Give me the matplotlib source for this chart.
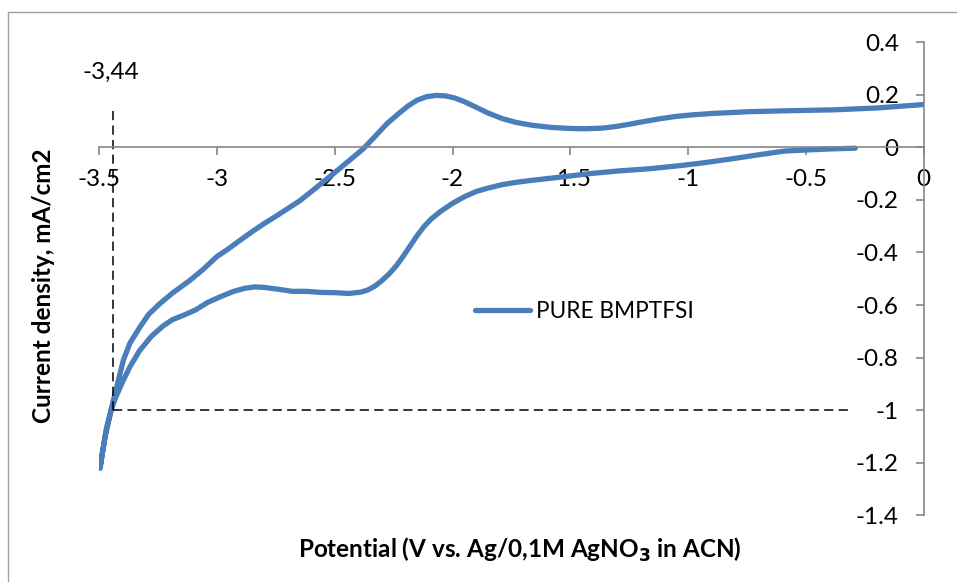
import matplotlib
matplotlib.use("Agg")
import matplotlib.pyplot as plt
from matplotlib.patches import Rectangle

# cyclic voltammogram of the pure ionic liquid
# forward scan (towards negative potentials)
x_fwd = [-0.29, -0.40, -0.50, -0.59, -0.70, -0.81, -0.92, -1.02, -1.16, -1.30,
         -1.42, -1.54, -1.66, -1.73, -1.79, -1.85, -1.90, -1.95, -2.00, -2.05,
         -2.09, -2.12, -2.15, -2.18, -2.21, -2.24, -2.27, -2.30, -2.33, -2.36,
         -2.39, -2.44, -2.50, -2.56, -2.62, -2.68, -2.74, -2.80, -2.84, -2.88,
         -2.93, -2.99, -3.04, -3.09, -3.14, -3.19, -3.23, -3.28, -3.33, -3.37,
         -3.40, -3.43, -3.45, -3.47, -3.485, -3.497]
y_fwd = [-0.003, -0.006, -0.010, -0.014, -0.028, -0.043, -0.057, -0.068, -0.081, -0.090,
         -0.100, -0.113, -0.125, -0.133, -0.142, -0.155, -0.168, -0.188, -0.213, -0.243,
         -0.272, -0.300, -0.335, -0.375, -0.415, -0.452, -0.482, -0.507, -0.528, -0.543,
         -0.551, -0.556, -0.553, -0.552, -0.548, -0.548, -0.540, -0.533, -0.531, -0.536,
         -0.548, -0.570, -0.590, -0.618, -0.638, -0.656, -0.680, -0.720, -0.775, -0.835,
         -0.890, -0.950, -1.000, -1.070, -1.150, -1.222]
# reverse scan (back to 0 V)
x_rev = [-3.49, -3.475, -3.46, -3.445, -3.42, -3.398, -3.37, -3.327, -3.29, -3.242,
         -3.19, -3.115, -3.06, -3.00, -2.95, -2.90, -2.85, -2.80, -2.75, -2.70,
         -2.65, -2.58, -2.51, -2.44, -2.38, -2.33, -2.28, -2.23, -2.19, -2.15,
         -2.11, -2.07, -2.03, -1.99, -1.95, -1.90, -1.85, -1.79, -1.73, -1.66,
         -1.58, -1.50, -1.44, -1.37, -1.31, -1.25, -1.19, -1.12, -1.05, -0.98,
         -0.90, -0.74, -0.55, -0.38, -0.20, 0.0]
y_rev = [-1.18, -1.10, -1.04, -0.98, -0.89, -0.81, -0.745, -0.683, -0.635, -0.594,
         -0.555, -0.506, -0.465, -0.415, -0.385, -0.352, -0.320, -0.290, -0.262, -0.233,
         -0.204, -0.154, -0.103, -0.051, -0.006, 0.041, 0.089, 0.128, 0.157, 0.180,
         0.193, 0.198, 0.196, 0.188, 0.174, 0.153, 0.131, 0.110, 0.095, 0.084,
         0.076, 0.072, 0.071, 0.073, 0.079, 0.088, 0.098, 0.109, 0.118, 0.124,
         0.129, 0.136, 0.140, 0.143, 0.150, 0.163]

# onset potential at -1 mA/cm2
onset_x = -3.44
onset_y = -1.0
onset_label = "-3,44"

x_ticks = [-3.5, -3, -2.5, -2, -1.5, -1, -0.5, 0]
y_ticks = [-1.4, -1.2, -1, -0.8, -0.6, -0.4, -0.2, 0, 0.2, 0.4]

plt.rcParams['font.family'] = ['Lato', 'DejaVu Sans']
fs = 17.5

fig = plt.figure(figsize=(9.57, 5.82), dpi=100)
ax = fig.add_axes([0.1038, 0.1148, 0.8612, 0.8125])

blue = '#4a7ebb'
ax.plot(x_fwd + x_rev, y_fwd + y_rev, color=blue, lw=3.8,
        solid_capstyle='round', solid_joinstyle='round', label='PURE BMPTFSI')

# dashed guide lines for the onset
ax.plot([onset_x, onset_x], [0.14, onset_y], color='black', lw=1.1, ls=(0, (6, 3.5)))
ax.plot([onset_x, -0.3], [onset_y, onset_y], color='black', lw=1.1, ls=(0, (6, 3.5)))
ax.text(-3.453, 0.285, onset_label, ha='center', va='center', fontsize=fs)

ax.set_xlim(-3.5, 0)
ax.set_ylim(-1.4, 0.4)
ax.set_xticks(x_ticks)
ax.set_xticklabels([f"{v:g}" for v in x_ticks])
ax.set_yticks(y_ticks)
ax.set_yticklabels([f"{v:g}" for v in y_ticks])

# axes cross at the origin: x axis at y=0, y axis at x=0 (right edge)
ax.spines['left'].set_position(('data', 0))
ax.spines['bottom'].set_position(('data', 0))
ax.spines['top'].set_visible(False)
ax.spines['right'].set_visible(False)
for s in ['left', 'bottom']:
    ax.spines[s].set_color('#868686')
    ax.spines[s].set_linewidth(1.2)
ax.tick_params(axis='both', colors='#868686', labelcolor='black', labelsize=fs,
               length=5.8, width=1.2)
ax.tick_params(axis='y', pad=12)
ax.tick_params(axis='x', pad=10)
ax.patch.set_visible(False)

leg = ax.legend(loc='center left', bbox_to_anchor=(0.4963, 0.4656),
                bbox_transform=fig.transFigure, frameon=False, fontsize=16.3,
                handlelength=2.45, handletextpad=0.25, borderpad=0, borderaxespad=0)

fig.text(44 / 957, 1 - 286 / 582, "Current density, mA/cm2", rotation=90,
         ha='center', va='center', fontsize=fs, fontweight='bold')
fig.text(519.5 / 957, 1 - 550 / 582, r"Potential (V vs. Ag/0,1M AgNO$_\mathbf{3}$ in ACN)",
         ha='center', va='center', fontsize=fs, fontweight='bold')

# chart area border
fig.add_artist(Rectangle((8 / 957, -0.1), 1.2, 1.1 - 12 / 582, transform=fig.transFigure,
                         fill=False, edgecolor='#a0a0a0', lw=1.0))

fig.savefig('out.png', dpi=100)
